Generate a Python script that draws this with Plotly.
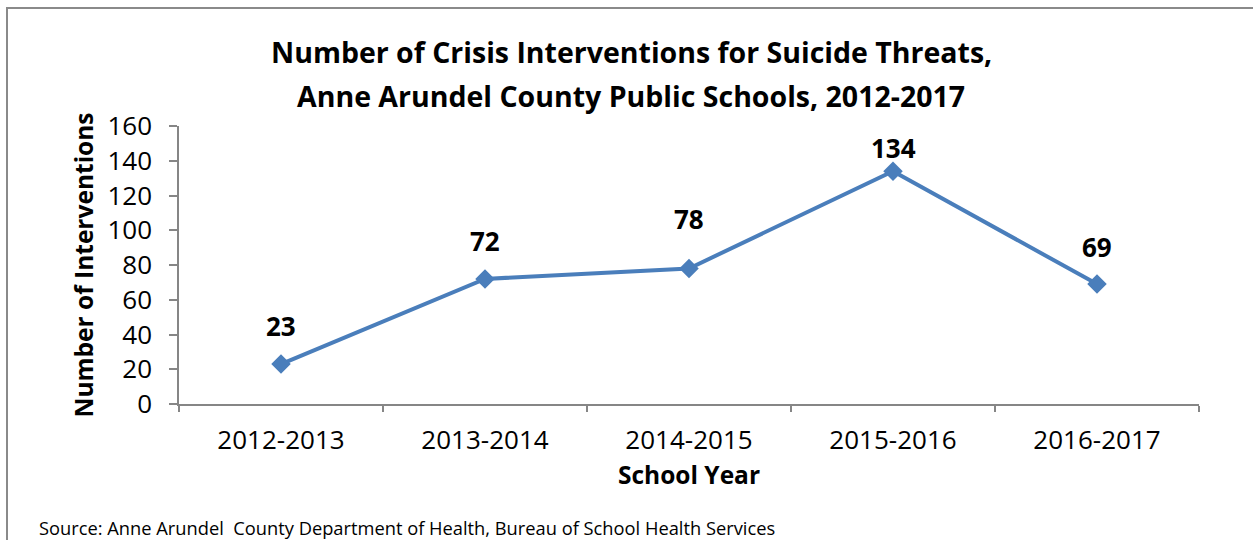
import plotly.graph_objects as go

years = ["2012-2013", "2013-2014", "2014-2015", "2015-2016", "2016-2017"]
interventions = [23, 72, 78, 134, 69]
label_lift = [38, 38, 49, 23, 37]  # pixel offset of each value label above its point (style)
y_ticks = [0, 20, 40, 60, 80, 100, 120, 140, 160]

FONT = "Open Sans"
LINE = "#4A7EBB"
AXIS = "#868686"

W, H = 1253, 540
L, R, T, B = 179, 54, 126, 136
pw, ph = W - L - R, H - T - B

def px(x):
    return (x - L) / pw

def py(y):
    return (H - B - y) / ph

fig = go.Figure()
fig.add_trace(go.Scatter(
    x=years, y=interventions, mode="lines+markers",
    line=dict(color=LINE, width=4),
    marker=dict(symbol="diamond", size=15, color=LINE),
    hoverinfo="x+y", showlegend=False, cliponaxis=False,
))

annotations = []
for yr, v, lift in zip(years, interventions, label_lift):
    annotations.append(dict(
        x=yr, y=v, xref="x", yref="y", text=str(v), showarrow=False,
        yshift=lift, font=dict(family=FONT, size=26, color="black", weight="bold"),
    ))

annotations += [
    dict(x=px(631), y=py(52), xref="paper", yref="paper", showarrow=False,
         text="Number of Crisis Interventions for Suicide Threats,",
         font=dict(family=FONT, size=28.5, color="black", weight="bold"),
         xanchor="center", yanchor="middle"),
    dict(x=px(631), y=py(96), xref="paper", yref="paper", showarrow=False,
         text="Anne Arundel County Public Schools, 2012-2017",
         font=dict(family=FONT, size=28.5, color="black", weight="bold"),
         xanchor="center", yanchor="middle"),
    dict(x=px(37), y=py(527), xref="paper", yref="paper", showarrow=False,
         text="Source: Anne Arundel  County Department of Health, Bureau of School Health Services",
         font=dict(family=FONT, size=18.3, color="black"),
         xanchor="left", yanchor="middle"),
]

fig.update_layout(
    width=W, height=H,
    margin=dict(l=L, r=R, t=T, b=B, pad=0),
    paper_bgcolor="white", plot_bgcolor="white",
    font=dict(family=FONT, color="black"),
    annotations=annotations,
    shapes=[dict(type="rect", xref="paper", yref="paper",
                 x0=px(7), y0=py(560), x1=px(1262), y1=py(8),
                 line=dict(color="#8A8A8A", width=2), layer="below")],
    xaxis=dict(
        type="category", range=[-0.5, 4.5], showgrid=False, zeroline=False,
        showline=True, linecolor=AXIS, linewidth=1.5,
        ticks="outside", tickson="boundaries", ticklen=6, tickcolor=AXIS, tickwidth=1.5,
        tickfont=dict(family=FONT, size=26, color="black"),
        ticklabelstandoff=12,
        title=dict(text="School Year", standoff=11,
                   font=dict(family=FONT, size=24.5, color="black", weight="bold")),
    ),
    yaxis=dict(
        range=[0, 160], tickvals=y_ticks, showgrid=False, zeroline=False,
        showline=True, linecolor=AXIS, linewidth=1.5,
        ticks="outside", ticklen=8, tickcolor=AXIS, tickwidth=1.5,
        tickfont=dict(family=FONT, size=26, color="black"),
        ticklabelstandoff=12,
        title=dict(text="Number of Interventions", standoff=7,
                   font=dict(family=FONT, size=24.5, color="black", weight="bold")),
    ),
)

fig.write_html("out.html", config={"displayModeBar": False},
               post_script="document.body.style.margin='0';")
